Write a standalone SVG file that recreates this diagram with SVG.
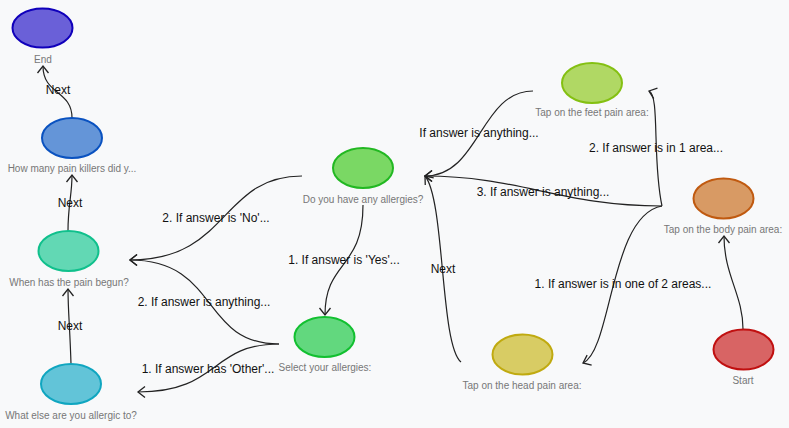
<svg xmlns="http://www.w3.org/2000/svg" width="789" height="428" viewBox="0 0 789 428">
<defs>
<style>
.bg{fill:#f8f9fa}
.node{stroke-width:2}
.nl{font-family:"Liberation Sans",Arial,sans-serif;font-size:10px;fill:#777;text-anchor:middle}
.el{font-family:"Liberation Sans",Arial,sans-serif;font-size:12px;fill:#111;text-anchor:middle}
.c{fill:none;stroke:#222;stroke-width:1.2}
</style>
<marker id="arr" viewBox="-9 -7 11 14" markerWidth="11" markerHeight="14" refX="0" refY="0" orient="auto" markerUnits="userSpaceOnUse">
<path d="M-7,-5.5 L0,0 L-7,5.5" fill="none" stroke="#222" stroke-width="1.3"/>
</marker>
</defs>
<rect class="bg" x="0" y="0" width="789" height="428"/>
<g id="connectors">
<path class="c" marker-end="url(#arr)" d="M743,329 C743,295 724,275 724,236"/>
<path class="c" marker-end="url(#arr)" d="M662,206 C610,215 612,350 583,363"/>
<path class="c" marker-end="url(#arr)" d="M662,206 C652,160 660,95 649,91"/>
<path class="c" marker-end="url(#arr)" d="M662,206 C560,206 520,176 425,176"/>
<path class="c" marker-end="url(#arr)" d="M533,91 C480,91 480,176 425,176"/>
<path class="c" marker-end="url(#arr)" d="M461,362 C440,345 445,200 425,176"/>
<path class="c" marker-end="url(#arr)" d="M363,205 C363,270 325,260 325,315"/>
<path class="c" marker-end="url(#arr)" d="M302,176 C220,176 230,260 130,260"/>
<path class="c" marker-end="url(#arr)" d="M279,344 C200,344 220,260 130,260"/>
<path class="c" marker-end="url(#arr)" d="M279,344 C210,344 220,392 138,392"/>
<path class="c" marker-end="url(#arr)" d="M71,364 C70,330 68,310 68,289"/>
<path class="c" marker-end="url(#arr)" d="M68,231 C68,205 72,195 72,175"/>
<path class="c" marker-end="url(#arr)" d="M72,118 C72,90 43,95 43,66"/>
<text class="el" x="58" y="94">Next</text>
<text class="el" x="70" y="207">Next</text>
<text class="el" x="70" y="330">Next</text>
<text class="el" x="216" y="222">2. If answer is 'No'...</text>
<text class="el" x="204" y="306">2. If answer is anything...</text>
<text class="el" x="208" y="373">1. If answer has 'Other'...</text>
<text class="el" x="344" y="264">1. If answer is 'Yes'...</text>
<text class="el" x="443" y="273">Next</text>
<text class="el" x="479" y="137">If answer is anything...</text>
<text class="el" x="656" y="152">2. If answer is in 1 area...</text>
<text class="el" x="543" y="196">3. If answer is anything...</text>
<text class="el" x="623" y="288">1. If answer is in one of 2 areas...</text>
</g>
<g id="end"><ellipse class="node" cx="42.5" cy="28" rx="30" ry="19.5" fill="#6a60d8" stroke="#1000bb"/><text class="nl" x="43" y="63">End</text></g>
<g id="painkillers"><ellipse class="node" cx="72" cy="138" rx="30" ry="20" fill="#6495d8" stroke="#0a52c0"/><text class="nl" x="72" y="172">How many pain killers did y...</text></g>
<g id="begun"><ellipse class="node" cx="68.5" cy="251" rx="30" ry="20" fill="#62d8b4" stroke="#10c08c"/><text class="nl" x="69" y="286">When has the pain begun?</text></g>
<g id="allergic"><ellipse class="node" cx="71" cy="384" rx="30" ry="20" fill="#62c4d8" stroke="#10a6c0"/><text class="nl" x="71" y="419">What else are you allergic to?</text></g>
<g id="anyallergies"><ellipse class="node" cx="363" cy="168" rx="30" ry="20" fill="#7ad864" stroke="#22b822"/><text class="nl" x="363" y="203">Do you have any allergies?</text></g>
<g id="selectallergies"><ellipse class="node" cx="324.5" cy="337" rx="30" ry="20" fill="#62d87e" stroke="#12c030"/><text class="nl" x="325" y="371">Select your allergies:</text></g>
<g id="feet"><ellipse class="node" cx="592" cy="83" rx="30" ry="20" fill="#b0d864" stroke="#84c012"/><text class="nl" x="592" y="116">Tap on the feet pain area:</text></g>
<g id="body"><ellipse class="node" cx="723.5" cy="198.5" rx="30" ry="20" fill="#d89a64" stroke="#c05a10"/><text class="nl" x="723" y="233">Tap on the body pain area:</text></g>
<g id="head"><ellipse class="node" cx="522.5" cy="354.5" rx="30" ry="20" fill="#d8cc64" stroke="#c0aa10"/><text class="nl" x="522" y="389">Tap on the head pain area:</text></g>
<g id="start"><ellipse class="node" cx="743.5" cy="349.5" rx="30" ry="20" fill="#d86464" stroke="#c01010"/><text class="nl" x="743" y="384">Start</text></g>
</svg>
